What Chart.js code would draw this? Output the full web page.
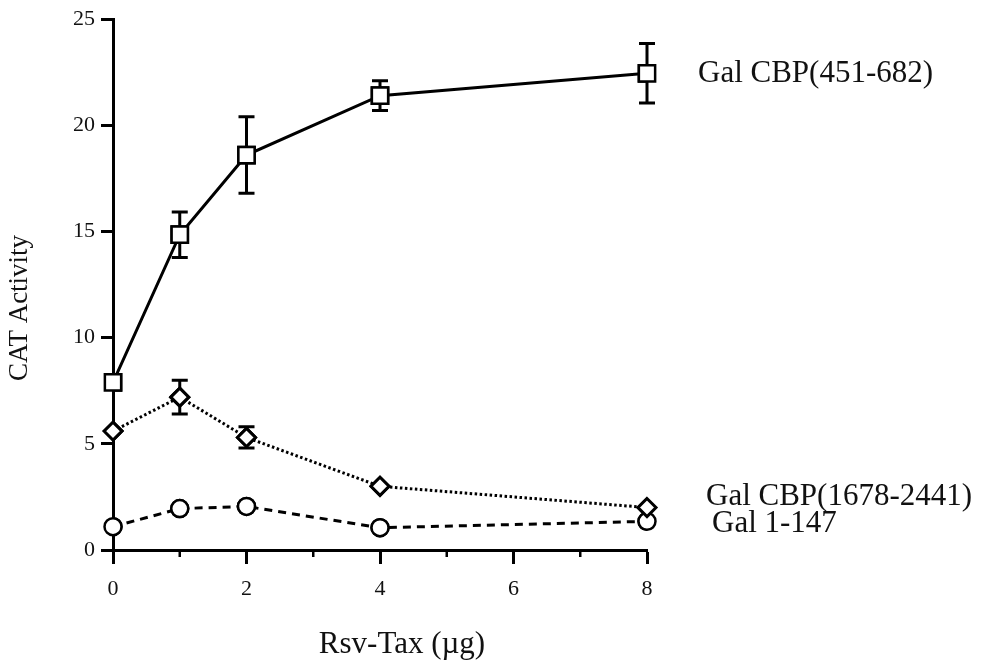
<!DOCTYPE html>
<html>
<head>
<meta charset="utf-8">
<title>CAT Activity vs Rsv-Tax</title>
<script src="https://cdn.jsdelivr.net/npm/chart.js@4.4.1/dist/chart.umd.min.js"></script>
<style>
  html, body { margin: 0; padding: 0; background: #fff; }
  #wrap { width: 984px; height: 665px; position: relative; }
</style>
</head>
<body>
<div id="wrap"><canvas id="catChart"></canvas></div>
<script>
// Rsv-Tax dose (µg)
const doses = [0, 1, 2, 4, 8];

// CAT activity per construct
const cbp451 = [7.9, 14.85, 18.6, 21.4, 22.45];
const cbp451Err = [0, 1.07, 1.8, 0.7, 1.4];

const cbp1678 = [5.6, 7.2, 5.3, 3.0, 2.0];
const cbp1678Err = [0, 0.8, 0.5, 0, 0];

const gal147 = [1.1, 1.95, 2.05, 1.05, 1.35];

const seriesNames = ["Gal CBP(451-682)", "Gal CBP(1678-2441)", "Gal 1-147"];

const xMajorTicks = [0, 2, 4, 6, 8];
const xMinorTicks = [1, 3, 5, 7];
const yTicks = [0, 5, 10, 15, 20, 25];

const SERIF = "'Liberation Serif', 'Times New Roman', serif";

const toPoints = (vals) => vals.map((v, i) => ({ x: doses[i], y: v }));

// error bars, then the markers again so they sit on top
const errorBars = {
  id: "errorBars",
  afterDatasetsDraw(chart) {
    const { ctx, scales: { x, y } } = chart;
    const sets = [[cbp451, cbp451Err], [cbp1678, cbp1678Err]];
    ctx.save();
    ctx.strokeStyle = "#000";
    ctx.lineWidth = 3;
    sets.forEach(([vals, errs]) => {
      vals.forEach((v, i) => {
        const e = errs[i];
        if (!e) return;
        const px = x.getPixelForValue(doses[i]);
        const top = y.getPixelForValue(v + e);
        const bot = y.getPixelForValue(v - e);
        ctx.beginPath();
        ctx.moveTo(px, top); ctx.lineTo(px, bot);
        ctx.moveTo(px - 8, top); ctx.lineTo(px + 8, top);
        ctx.moveTo(px - 8, bot); ctx.lineTo(px + 8, bot);
        ctx.stroke();
      });
    });
    ctx.restore();
    chart.getSortedVisibleDatasetMetas().slice().reverse().forEach(meta => {
      meta.data.forEach(pt => pt.draw(ctx, chart.chartArea));
    });
  }
};

// minor x ticks, axis titles and series labels
const annotate = {
  id: "annotate",
  afterDraw(chart) {
    const { ctx, chartArea, scales: { x, y } } = chart;
    ctx.save();
    ctx.strokeStyle = "#000";
    ctx.lineWidth = 2.5;
    xMinorTicks.forEach(v => {
      const px = x.getPixelForValue(v);
      ctx.beginPath();
      ctx.moveTo(px, chartArea.bottom);
      ctx.lineTo(px, chartArea.bottom + 7);
      ctx.stroke();
    });

    ctx.fillStyle = "#111";
    ctx.font = "31px " + SERIF;
    ctx.textAlign = "center";
    ctx.textBaseline = "middle";
    ctx.fillText("Rsv-Tax (\u00b5g)", 402, 645);

    ctx.save();
    ctx.translate(20, 308);
    ctx.rotate(-Math.PI / 2);
    ctx.font = "27px " + SERIF;
    ctx.fillText("CAT Activity", 0, 0);
    ctx.restore();

    ctx.textAlign = "left";
    ctx.font = "31px " + SERIF;
    const right = chartArea.right;
    ctx.fillText(seriesNames[0], right + 51, y.getPixelForValue(cbp451[4]) + 1);
    ctx.fillText(seriesNames[1], right + 59, 497);
    ctx.fillText(seriesNames[2], right + 65, 524);
    ctx.restore();
  }
};

const ctx = document.getElementById("catChart").getContext("2d");
new Chart(ctx, {
  type: "line",
  data: {
    datasets: [
      {
        label: seriesNames[0],
        data: toPoints(cbp451),
        borderColor: "#000",
        borderWidth: 3,
        pointStyle: "rect",
        pointRadius: 11.5,
        pointBorderWidth: 2.5,
        pointBackgroundColor: "#fff",
        pointBorderColor: "#000",
        tension: 0
      },
      {
        label: seriesNames[1],
        data: toPoints(cbp1678),
        borderColor: "#000",
        borderWidth: 3,
        borderDash: [2.5, 2.5],
        pointStyle: "rectRot",
        pointRadius: 9,
        pointBorderWidth: 3,
        pointBackgroundColor: "#fff",
        pointBorderColor: "#000",
        tension: 0
      },
      {
        label: seriesNames[2],
        data: toPoints(gal147),
        borderColor: "#000",
        borderWidth: 3,
        borderDash: [8, 6],
        pointStyle: "circle",
        pointRadius: 8.5,
        pointBorderWidth: 2.5,
        pointBackgroundColor: "#fff",
        pointBorderColor: "#000",
        tension: 0
      }
    ]
  },
  options: {
    responsive: true,
    maintainAspectRatio: false,
    animation: false,
    devicePixelRatio: 1,
    layout: { padding: { left: 0, top: 17, right: 337, bottom: 0 } },
    plugins: {
      legend: { display: false },
      tooltip: { enabled: false }
    },
    scales: {
      x: {
        type: "linear",
        min: 0,
        max: 8,
        afterFit: s => { s.height = 115; },
        afterBuildTicks: s => { s.ticks = xMajorTicks.map(v => ({ value: v })); },
        ticks: {
          color: "#111",
          font: { family: SERIF, size: 22 },
          padding: 12,
          maxRotation: 0
        },
        grid: {
          drawOnChartArea: false,
          drawTicks: true,
          tickLength: 14,
          tickWidth: 3,
          tickColor: "#000"
        },
        border: { display: true, color: "#000", width: 3 }
      },
      y: {
        min: 0,
        max: 25,
        afterFit: s => { s.width = 113; },
        afterBuildTicks: s => { s.ticks = yTicks.map(v => ({ value: v })); },
        ticks: {
          color: "#111",
          font: { family: SERIF, size: 22 },
          padding: 6
        },
        grid: {
          drawOnChartArea: false,
          drawTicks: true,
          tickLength: 12,
          tickWidth: 3,
          tickColor: "#000"
        },
        border: { display: true, color: "#000", width: 3 }
      }
    }
  },
  plugins: [errorBars, annotate]
});
</script>
</body>
</html>
